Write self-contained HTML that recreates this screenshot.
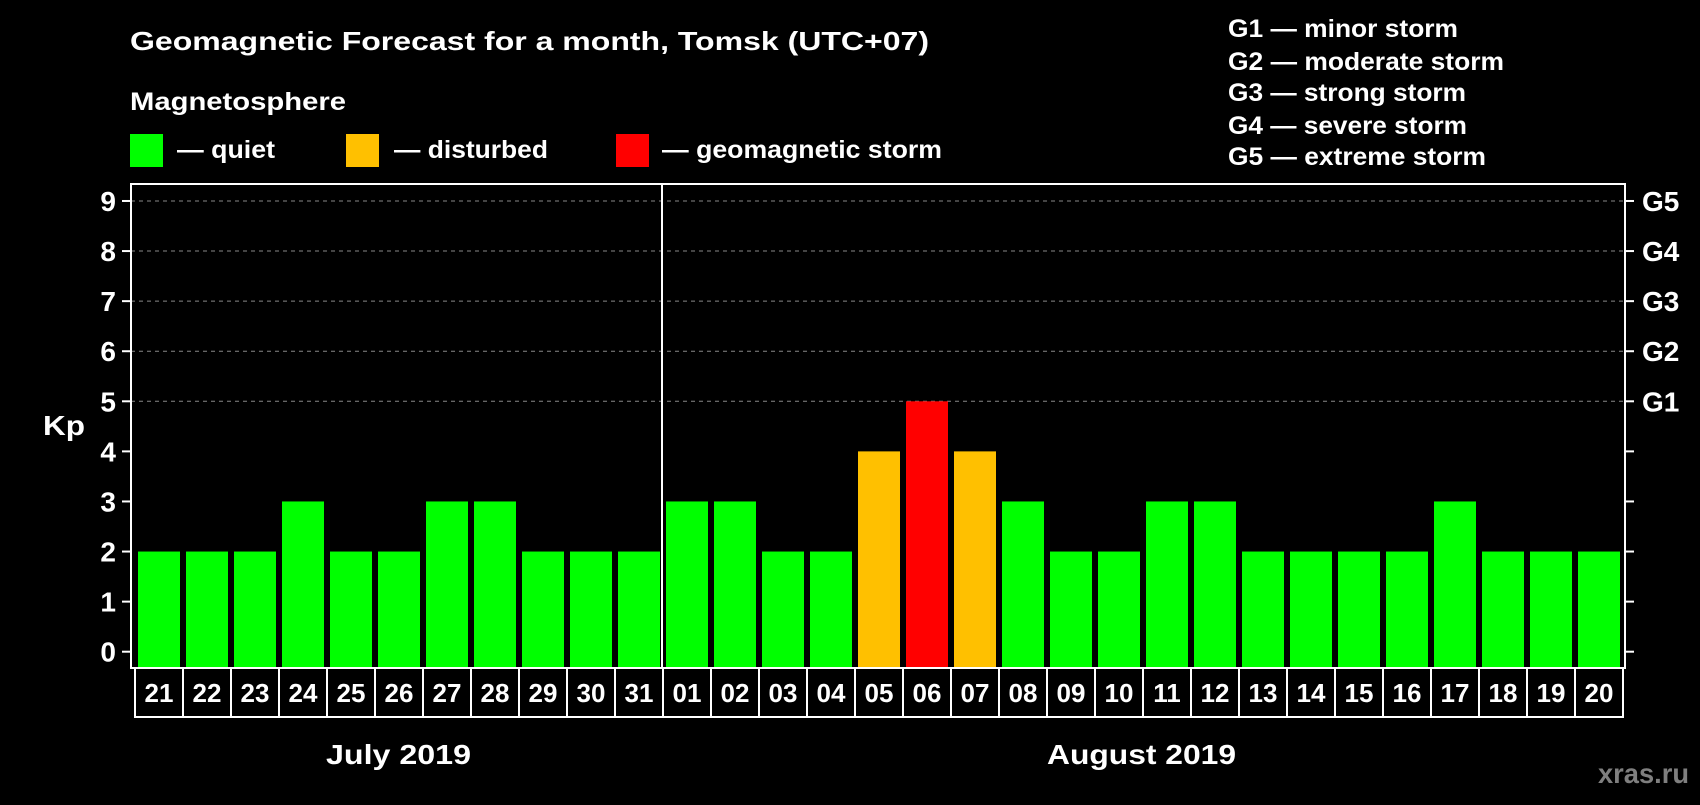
<!DOCTYPE html>
<html><head><meta charset="utf-8"><style>
body{margin:0;background:#000;width:1700px;height:800px;overflow:hidden;font-family:"Liberation Sans",sans-serif;font-weight:bold;color:#fff}
</style></head><body>
<svg width="1700" height="800" xmlns="http://www.w3.org/2000/svg" font-family="Liberation Sans, sans-serif" font-weight="bold">
<rect width="1700" height="800" fill="#000"/>
<text x="130" y="50" font-size="26" fill="#fff" textLength="799" lengthAdjust="spacingAndGlyphs">Geomagnetic Forecast for a month, Tomsk (UTC+07)</text>
<text x="130" y="110" font-size="25" fill="#fff" textLength="216" lengthAdjust="spacingAndGlyphs">Magnetosphere</text>
<g><rect x="130" y="134" width="33" height="33" fill="#00ff00"/><text x="177" y="158" font-size="25" fill="#fff" textLength="98" lengthAdjust="spacingAndGlyphs">— quiet</text></g>
<g><rect x="346" y="134" width="33" height="33" fill="#ffc000"/><text x="394" y="158" font-size="25" fill="#fff" textLength="154" lengthAdjust="spacingAndGlyphs">— disturbed</text></g>
<g><rect x="616" y="134" width="33" height="33" fill="#ff0000"/><text x="662" y="158" font-size="25" fill="#fff" textLength="280" lengthAdjust="spacingAndGlyphs">— geomagnetic storm</text></g>
<g font-size="25" fill="#fff">
<text x="1228" y="37" textLength="230" lengthAdjust="spacingAndGlyphs">G1 — minor storm</text>
<text x="1228" y="70" textLength="276" lengthAdjust="spacingAndGlyphs">G2 — moderate storm</text>
<text x="1228" y="101" textLength="238" lengthAdjust="spacingAndGlyphs">G3 — strong storm</text>
<text x="1228" y="134" textLength="239" lengthAdjust="spacingAndGlyphs">G4 — severe storm</text>
<text x="1228" y="165" textLength="258" lengthAdjust="spacingAndGlyphs">G5 — extreme storm</text>
</g>
<text x="43" y="435" font-size="28" fill="#fff" textLength="42" lengthAdjust="spacingAndGlyphs">Kp</text>
<g id="grid"></g><g id="bars"></g><g id="axes"></g>
<text x="326" y="764" font-size="28" fill="#fff" textLength="145" lengthAdjust="spacingAndGlyphs">July 2019</text>
<text x="1047" y="764" font-size="28" fill="#fff" textLength="189" lengthAdjust="spacingAndGlyphs">August 2019</text>
<text x="1598" y="783" font-size="28" fill="#7f7f7f" textLength="91" lengthAdjust="spacingAndGlyphs">xras.ru</text>
</svg>
<script>
const days=["21","22","23","24","25","26","27","28","29","30","31","01","02","03","04","05","06","07","08","09","10","11","12","13","14","15","16","17","18","19","20"];
const kp=[2,2,2,3,2,2,3,3,2,2,2,3,3,2,2,4,5,4,3,2,2,3,3,2,2,2,2,3,2,2,2];
const yTicks=[0,1,2,3,4,5,6,7,8,9];
const gLabels=["G1","G2","G3","G4","G5"];
const NS="http://www.w3.org/2000/svg";
const L=131,R=1625,T=184,B=668,Y0=651.7,UNIT=50.08,X0=135,PITCH=48,BOXH=49;
const y=v=>Y0-v*UNIT, x=i=>X0+i*PITCH;
function mk(tag,a,p){const e=document.createElementNS(NS,tag);for(const k in a)e.setAttribute(k,a[k]);p.appendChild(e);return e;}
const grid=document.getElementById('grid'),bars=document.getElementById('bars'),axes=document.getElementById('axes');
yTicks.forEach(v=>{
 if(v>=5){const g=mk('line',{x1:L,x2:R,y1:y(v),y2:y(v),stroke:'#888','stroke-dasharray':'4,4','stroke-width':1},grid);
 
 }
 mk('line',{x1:L-9,x2:L,y1:y(v),y2:y(v),stroke:'#fff','stroke-width':2},axes);
 mk('line',{x1:R,x2:R+9,y1:y(v),y2:y(v),stroke:'#fff','stroke-width':2},axes);
 const t=mk('text',{x:L-15,y:y(v)+10,'font-size':28,fill:'#fff','text-anchor':'end'},axes);t.textContent=v;
 
 
});
gLabels.forEach((g,i)=>{const t=mk('text',{x:1642,y:y(i+5)+10,'font-size':28,fill:'#fff'},axes);t.textContent=g;
 
 });
kp.forEach((v,i)=>{
 const c=v>=5?'#ff0000':v>=4?'#ffc000':'#00ff00';
 const r=mk('rect',{x:x(i)+3,y:y(v),width:42,height:B-1-y(v),fill:c},bars);
 
 
 mk('rect',{x:x(i),y:B,width:PITCH,height:BOXH,fill:'none',stroke:'#fff','stroke-width':2},axes);
 const t=mk('text',{x:x(i)+24,y:B+34,'font-size':26,fill:'#fff','text-anchor':'middle'},axes);t.textContent=days[i];
 
 
});
mk('rect',{x:L,y:T,width:R-L,height:B-T,fill:'none',stroke:'#fff','stroke-width':2},axes);
mk('line',{x1:x(11)-1,x2:x(11)-1,y1:T,y2:B,stroke:'#fff','stroke-width':2},axes);
</script>
</body></html>
